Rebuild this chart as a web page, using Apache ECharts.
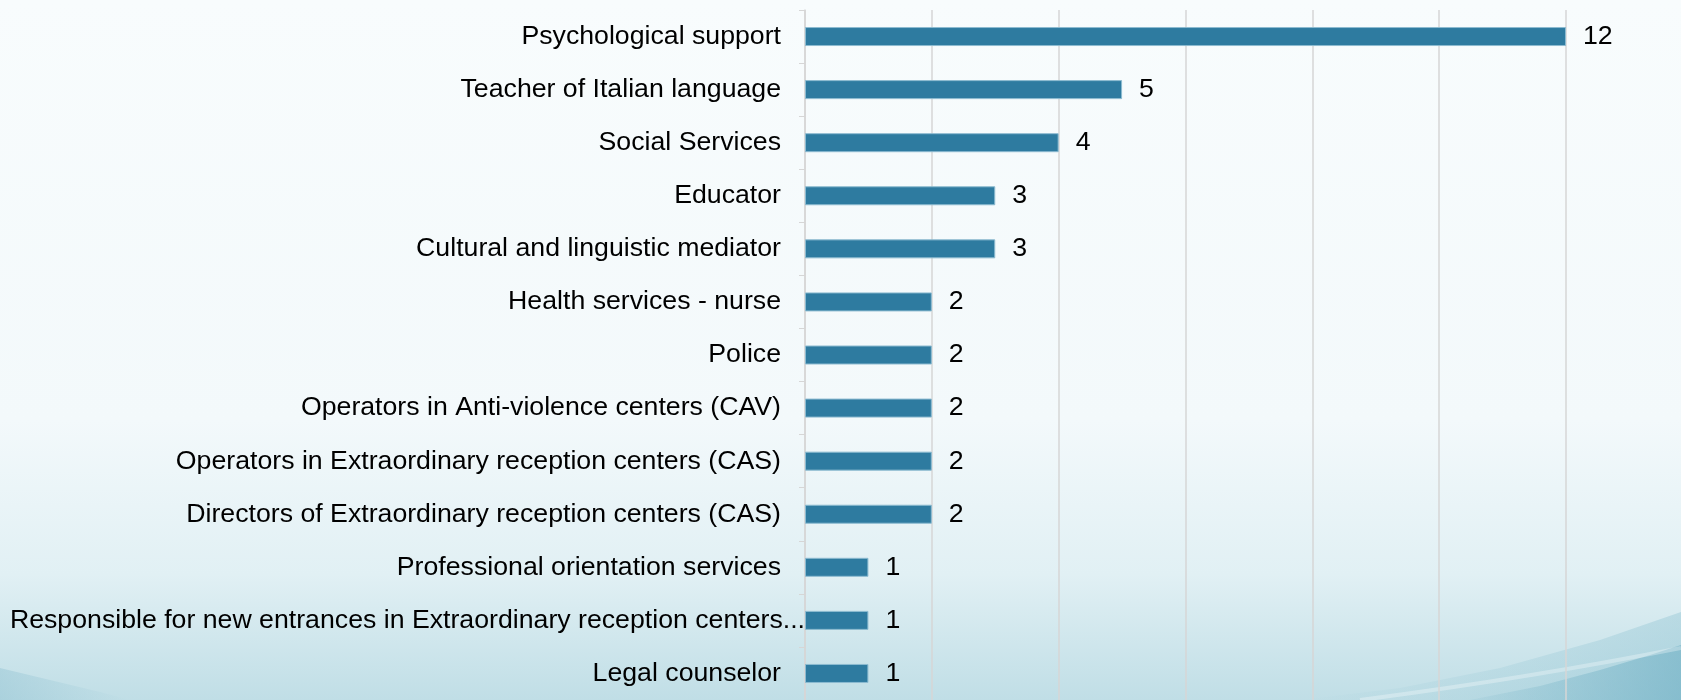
<!DOCTYPE html>
<html>
<head>
<meta charset="utf-8">
<script src="https://cdn.jsdelivr.net/npm/echarts@6/dist/echarts.min.js"></script>
<style>
  html, body { margin: 0; padding: 0; }
  #chart { width: 1681px; height: 700px; }
</style>
</head>
<body>
<div id="chart"></div>
<script>
// categories, top to bottom
var categories = [
  'Psychological support',
  'Teacher of Italian language',
  'Social Services',
  'Educator',
  'Cultural and linguistic mediator',
  'Health services - nurse',
  'Police',
  'Operators in Anti-violence centers (CAV)',
  'Operators in Extraordinary reception centers (CAS)',
  'Directors of Extraordinary reception centers (CAS)',
  'Professional orientation services',
  'Responsible for new entrances in Extraordinary reception centers...',
  'Legal counselor'
];
var counts = [12, 5, 4, 3, 3, 2, 2, 2, 2, 2, 1, 1, 1];

var myChart = echarts.init(document.getElementById('chart'));

// the long label runs up to the axis line in the original
var yData = categories.map(function (c, i) {
  if (i == 11) {
    return {value: c, textStyle: {padding: [0, -24, 0, 0]}};
  }
  return c;
});

var option = {
  backgroundColor: {
    type: 'linear', x: 0, y: 0, x2: 0, y2: 1,
    colorStops: [
      {offset: 0, color: '#f8fcfd'},
      {offset: 0.6, color: '#f3f9fb'},
      {offset: 0.82, color: '#e1f0f4'},
      {offset: 1, color: '#c0dee6'}
    ]
  },
  animation: false,
  // background swooshes (decoration only)
  graphic: [
    {
      type: 'polygon',
      z: -1,
      silent: true,
      shape: {points: [[1300, 700], [1400, 688], [1500, 668], [1600, 640], [1681, 612], [1681, 700]]},
      style: {
        fill: {
          type: 'linear', x: 0, y: 0, x2: 1, y2: 0,
          colorStops: [
            {offset: 0, color: 'rgba(130,188,205,0)'},
            {offset: 1, color: 'rgba(130,188,205,0.35)'}
          ]
        }
      }
    },
    {
      type: 'polygon',
      z: -1,
      silent: true,
      shape: {points: [[1470, 700], [1540, 686], [1600, 670], [1650, 655], [1681, 645], [1681, 700]]},
      style: {
        fill: {
          type: 'linear', x: 0, y: 0, x2: 1, y2: 0,
          colorStops: [
            {offset: 0, color: 'rgba(115,178,198,0.1)'},
            {offset: 1, color: 'rgba(115,178,198,0.65)'}
          ]
        }
      }
    },
    {
      type: 'bezierCurve',
      z: -1,
      silent: true,
      shape: {x1: 1360, y1: 700, cpx1: 1530, cpy1: 678, x2: 1681, y2: 648},
      style: {fill: null, stroke: 'rgba(255,255,255,0.3)', lineWidth: 4}
    },
    {
      type: 'polygon',
      z: -1,
      silent: true,
      shape: {points: [[0, 668], [50, 680], [100, 692], [130, 700], [0, 700]]},
      style: {
        fill: {
          type: 'linear', x: 0, y: 0, x2: 1, y2: 0,
          colorStops: [
            {offset: 0, color: 'rgba(120,180,200,0.3)'},
            {offset: 1, color: 'rgba(120,180,200,0)'}
          ]
        }
      }
    }
  ],
  grid: {
    left: 805,
    top: 10,
    width: 761,
    height: 695,
    containLabel: false
  },
  xAxis: {
    type: 'value',
    min: 0,
    max: 12,
    interval: 2,
    axisLabel: {show: false},
    axisLine: {show: false},
    axisTick: {show: false},
    splitLine: {show: true, lineStyle: {color: '#d6d6d6', width: 1.5}}
  },
  yAxis: {
    type: 'category',
    inverse: true,
    data: yData,
    axisLine: {show: true, lineStyle: {color: '#d6d6d6', width: 1.5}},
    axisTick: {show: true, length: 6, lineStyle: {color: '#d6d6d6'}},
    axisLabel: {
      margin: 24,
      color: '#000',
      fontFamily: 'Liberation Sans, Arial, sans-serif',
      fontSize: 26.7
    }
  },
  series: [
    {
      name: 'count',
      type: 'bar',
      data: counts,
      barWidth: 19,
      itemStyle: {
        color: '#2e7ba0',
        borderColor: '#8dbbd0',
        borderWidth: 1
      },
      label: {
        show: true,
        position: 'right',
        distance: 17,
        color: '#000',
        fontFamily: 'Liberation Sans, Arial, sans-serif',
        fontSize: 26.7
      }
    }
  ]
};

myChart.setOption(option);
</script>
</body>
</html>
